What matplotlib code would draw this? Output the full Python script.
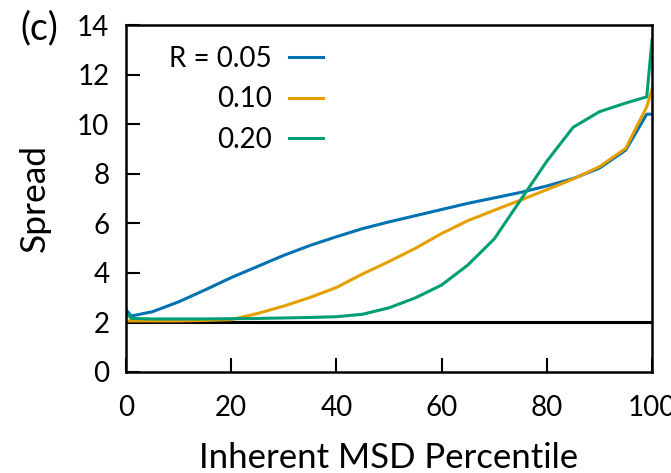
import numpy as np
import matplotlib
matplotlib.use("Agg")
import matplotlib.pyplot as plt

plt.rcParams['font.family'] = ['Lato', 'DejaVu Sans']

# percentile positions and spread for each R
pct = [0, 1, 5, 10, 15, 20, 25, 30, 35, 40, 45, 50, 55, 60, 65, 70, 75, 80, 85, 90, 95, 99, 100]
spread_005 = [2.5, 2.25, 2.42, 2.82, 3.3, 3.8, 4.25, 4.7, 5.1, 5.45, 5.78, 6.05, 6.3, 6.55, 6.8, 7.02, 7.24, 7.5, 7.8, 8.22, 8.95, 10.4, 10.4]
spread_010 = [2.05, 2.05, 2.05, 2.05, 2.07, 2.1, 2.35, 2.65, 3.0, 3.4, 3.95, 4.45, 4.98, 5.58, 6.1, 6.52, 6.93, 7.35, 7.78, 8.28, 9.02, 10.7, 11.4]
spread_020 = [2.4, 2.15, 2.13, 2.13, 2.13, 2.14, 2.15, 2.17, 2.19, 2.22, 2.32, 2.58, 2.98, 3.5, 4.31, 5.36, 6.93, 8.5, 9.87, 10.5, 10.85, 11.1, 13.4]
labels = ["R = 0.05", "0.10", "0.20"]
colors = ["#0072B2", "#E69F00", "#009E73"]
baseline = 2

fig = plt.figure(figsize=(6.71, 4.73), dpi=100)
ax = fig.add_axes([0.1878, 0.2142, 0.7839, 0.7328])

for ys, lab, c in zip([spread_005, spread_010, spread_020], labels, colors):
    ax.plot(pct, ys, color=c, lw=2.2, label=lab)
ax.axhline(baseline, color="black", lw=2.2, zorder=1)

ax.set_xlim(0, 100)
ax.set_ylim(0, 14)
ax.set_xticks(np.arange(0, 101, 20))
ax.set_yticks(np.arange(0, 15, 2))
ax.tick_params(direction="in", length=10, width=1.5, labelsize=20, colors="black")
ax.tick_params(axis="x", pad=17)
ax.tick_params(axis="y", pad=12)
for s in ax.spines.values():
    s.set_linewidth(1.8)

ax.set_xlabel("Inherent MSD Percentile", fontsize=25, labelpad=15)
ax.set_ylabel("Spread", fontsize=25.5, labelpad=19)
fig.text(0.03, 0.978, "(c)", fontsize=27, va="top")

# markerfirst=False right-aligns the rows, so labels end flush against the lines
ax.legend(loc="upper right", frameon=False, markerfirst=False, fontsize=20,
          handlelength=1.25, handletextpad=0.6, labelspacing=0.52,
          borderpad=0, borderaxespad=0, bbox_to_anchor=(0.375, 0.94))

fig.savefig("out.png", dpi=100)
